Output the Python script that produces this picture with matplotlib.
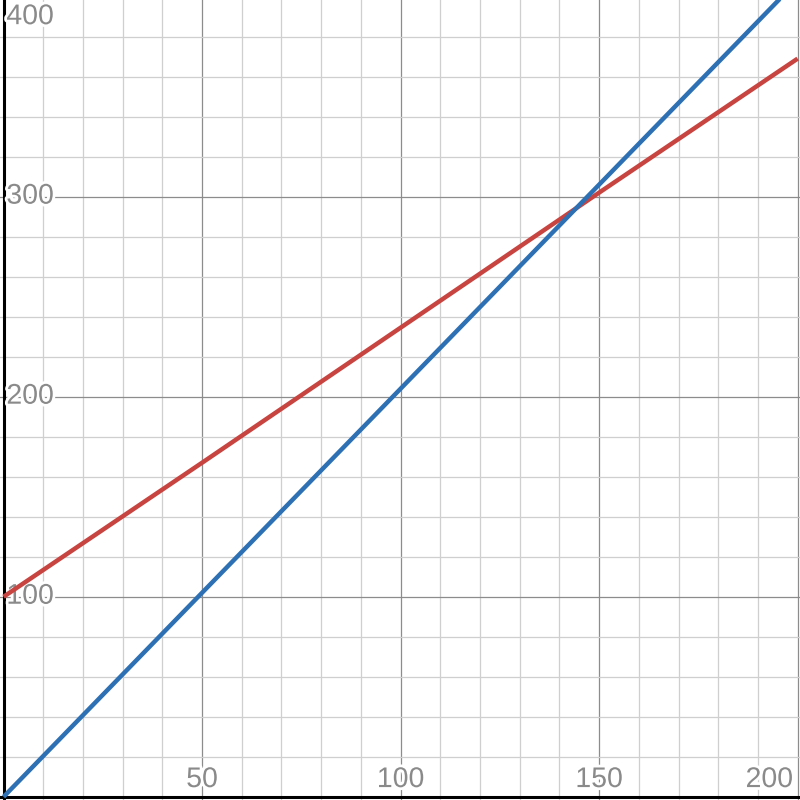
import matplotlib.pyplot as plt
import matplotlib.patheffects as pe
from matplotlib.ticker import MultipleLocator

# values
x_pts = [0, 50, 100, 150, 200]
red_y = [100, 167, 234.5, 302, 369]
blue_y = [0, 102, 204, 306, 408]
x_ticks = [50, 100, 150, 200]
y_ticks = [100, 200, 300, 400]

plt.rcParams['font.family'] = ['Liberation Sans', 'DejaVu Sans']

fig = plt.figure(figsize=(8, 8), dpi=100)
ax = fig.add_axes([0, 0, 1, 1])
ax.set_xlim(-0.9, 200.6)
ax.set_ylim(-1.6, 398.3)

# grid like a graphing calculator
ax.xaxis.set_major_locator(MultipleLocator(50))
ax.xaxis.set_minor_locator(MultipleLocator(10))
ax.yaxis.set_major_locator(MultipleLocator(100))
ax.yaxis.set_minor_locator(MultipleLocator(20))
ax.grid(which='major', color='#8c8c8c', lw=0.9, zorder=1)
ax.grid(which='minor', color='#cfcfcf', lw=0.9, zorder=0)
ax.tick_params(which='both', length=0, labelbottom=False, labelleft=False)
for s in ax.spines.values():
    s.set_visible(False)

ax.axhline(0, color='black', lw=2.2, zorder=2)
ax.axvline(0, color='black', lw=2.2, zorder=2)

ax.plot(x_pts, red_y, color='#c74440', lw=3.2, zorder=4, solid_capstyle='butt')
ax.plot(x_pts, blue_y, color='#2d70b3', lw=3.2, zorder=5, solid_capstyle='butt')

halo = [pe.withStroke(linewidth=4, foreground='white')]
lab = dict(color='#8a8a8a', fontsize=20.5, path_effects=halo, zorder=3)

for v in y_ticks:
    if v == 400:
        ax.annotate(str(v), xy=(0, 1), xycoords=('data', 'axes fraction'),
                    xytext=(2, -3), textcoords='offset points', ha='left', va='top', **lab)
    else:
        ax.annotate(str(v), xy=(0, v), xytext=(2, 0), textcoords='offset points',
                    ha='left', va='center', **lab)

for v in x_ticks:
    if v == 200:
        ax.annotate(str(v), xy=(1, 0), xycoords=('axes fraction', 'data'),
                    xytext=(-5, 7), textcoords='offset points', ha='right', va='baseline', **lab)
    else:
        ax.annotate(str(v), xy=(v, 0), xytext=(0, 7), textcoords='offset points',
                    ha='center', va='baseline', **lab)

fig.savefig('out.png', dpi=100)
